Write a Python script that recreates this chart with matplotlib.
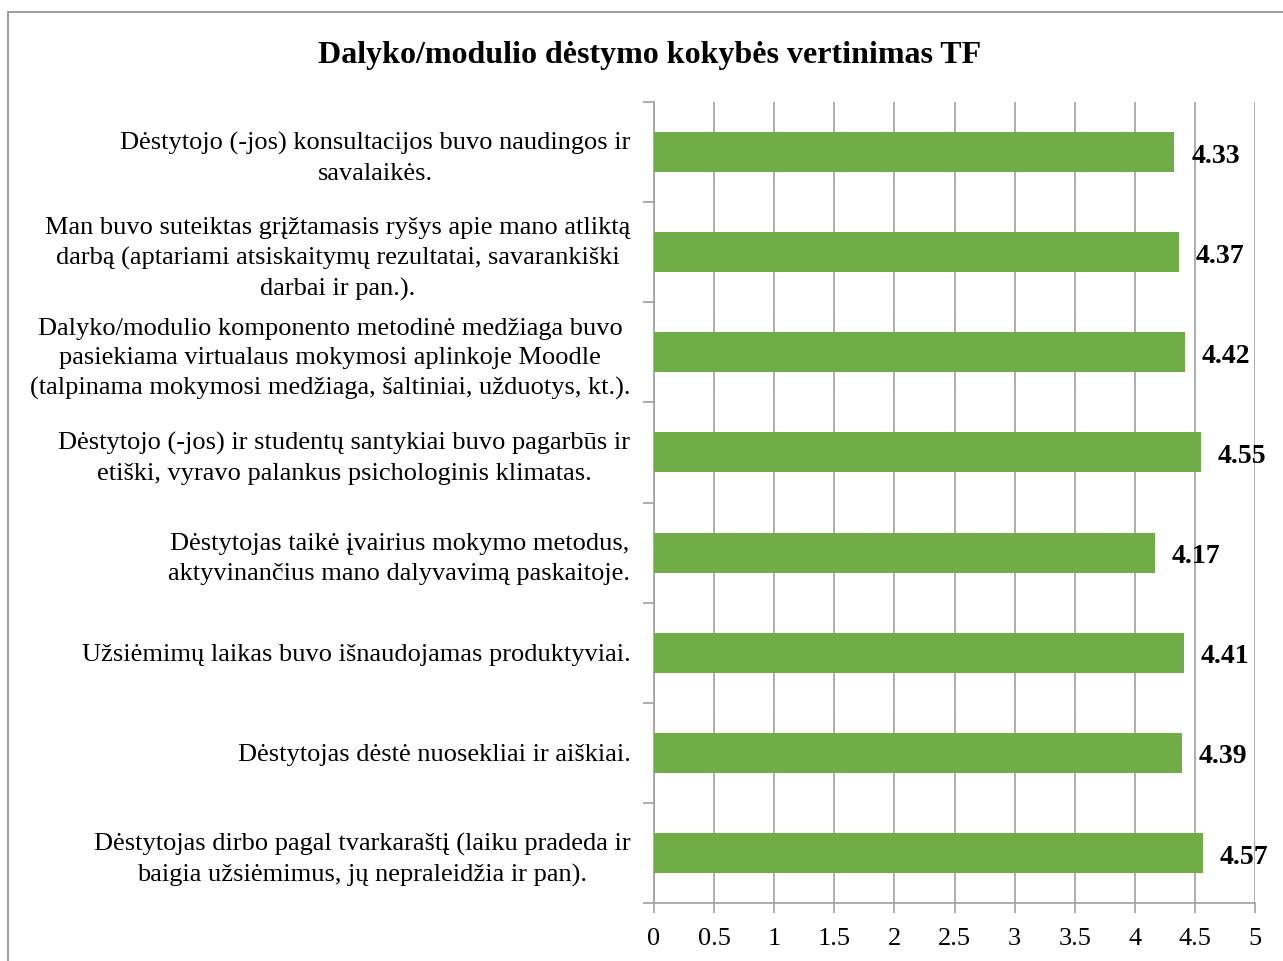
import matplotlib
matplotlib.use("Agg")
import matplotlib.pyplot as plt
from matplotlib.patches import Rectangle
import numpy as np

title = "Dalyko/modulio dėstymo kokybės vertinimas TF"
categories = [
    "Dėstytojo (-jos) konsultacijos buvo naudingos ir\nsavalaikės.",
    "Man buvo suteiktas grįžtamasis ryšys apie mano atliktą\ndarbą (aptariami atsiskaitymų rezultatai, savarankiški\ndarbai ir pan.).",
    "Dalyko/modulio komponento metodinė medžiaga buvo\npasiekiama virtualaus mokymosi aplinkoje Moodle\n(talpinama mokymosi medžiaga, šaltiniai, užduotys, kt.).",
    "Dėstytojo (-jos) ir studentų santykiai buvo pagarbūs ir\netiški, vyravo palankus psichologinis klimatas.",
    "Dėstytojas taikė įvairius mokymo metodus,\naktyvinančius mano dalyvavimą paskaitoje.",
    "Užsiėmimų laikas buvo išnaudojamas produktyviai.",
    "Dėstytojas dėstė nuosekliai ir aiškiai.",
    "Dėstytojas dirbo pagal tvarkaraštį (laiku pradeda ir\nbaigia užsiėmimus, jų nepraleidžia ir pan).",
]
values = [4.33, 4.37, 4.42, 4.55, 4.17, 4.41, 4.39, 4.57]
xticks = [0, 0.5, 1, 1.5, 2, 2.5, 3, 3.5, 4, 4.5, 5]
xticklabels = ["0", "0.5", "1", "1.5", "2", "2.5", "3", "3.5", "4", "4.5", "5"]

plt.rcParams['font.family'] = ['Liberation Serif', 'DejaVu Serif']

W, H = 1283, 961
fig = plt.figure(figsize=(W / 100, H / 100), dpi=100)
fig.patch.set_facecolor("white")
fig.patches.append(Rectangle((8 / W, -0.1), 1.2, 1 - 12 / H + 0.1, transform=fig.transFigure,
                             fill=False, edgecolor="#8c8c8c", linewidth=1.2))

ax = fig.add_axes([654 / W, 1 - 903 / H, (1255 - 654) / W, (903 - 102) / H])
gc = "#a0a0a0"
y = np.arange(len(categories))
ax.barh(y, values, height=0.4, color="#70AD47", zorder=3)
ax.set_xlim(0, 5)
ax.set_ylim(len(categories) - 0.5, -0.5)

ax.set_xticks(xticks)
ax.set_xticklabels(xticklabels, fontsize=19)
ax.xaxis.grid(True, color=gc, linewidth=1.2, zorder=0)
ax.set_axisbelow(True)

ax.set_yticks(y)
ax.set_yticklabels(categories, fontsize=19, multialignment="center", linespacing=1.45)
ax.set_yticks(np.arange(-0.5, len(categories)), minor=True)
ax.tick_params(axis="y", which="major", length=0, pad=17)
ax.tick_params(axis="y", which="minor", length=8, color=gc, width=1.2)
ax.tick_params(axis="x", which="major", length=7, color=gc, width=1.2, pad=11)

for s in ["top", "right"]:
    ax.spines[s].set_visible(False)
for s in ["left", "bottom"]:
    ax.spines[s].set_color(gc)
    ax.spines[s].set_linewidth(1.2)

for yi, v in zip(y, values):
    ax.annotate(f"{v:.2f}", (v, yi), xytext=(12, -3), textcoords="offset points",
                ha="left", va="center", fontsize=20, fontweight="bold", zorder=4)

fig.text(650 / W, 1 - 55 / H, title, ha="center", va="center", fontsize=23, fontweight="bold")

fig.savefig("out.png", dpi=100)
